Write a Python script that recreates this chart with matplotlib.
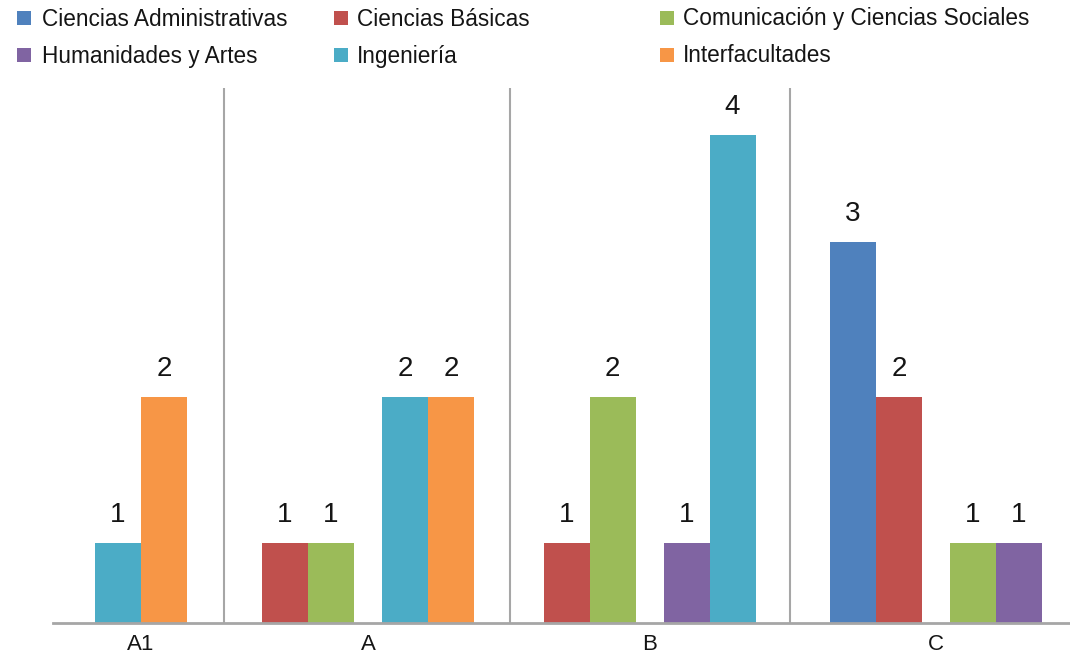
import numpy as np
import matplotlib
matplotlib.use('Agg')
import matplotlib.pyplot as plt
from matplotlib.patches import Rectangle

plt.rcParams['font.family'] = ['Liberation Sans', 'DejaVu Sans']

# data
groups = ['A1', 'A', 'B', 'C']
series = ['Ciencias Administrativas', 'Ciencias Básicas', 'Comunicación y Ciencias Sociales',
          'Humanidades y Artes', 'Ingeniería', 'Interfacultades']
admin = [0, 0, 0, 3]
basicas = [0, 1, 1, 2]
comunicacion = [0, 1, 2, 1]
humanidades = [0, 0, 1, 1]
ingenieria = [1, 2, 4, 0]
interfac = [2, 2, 0, 0]
values = [admin, basicas, comunicacion, humanidades, ingenieria, interfac]
colors = ['#4F81BD', '#C0504D', '#9BBB59', '#8064A2', '#4BACC6', '#F79646']

# the value axis of the original is not linear: calibrate it (value -> pixels above base)
knot_v = [-1, 0, 1, 2, 3, 4, 6]
knot_px = [-80, 0, 80, 226, 381, 488, 702]
def fwd(v):
    return np.interp(v, knot_v, knot_px)
def inv(p):
    return np.interp(p, knot_px, knot_v)

# layout (pixels)
W, H = 1070, 658
centers = [141, 368, 649.5, 936]
separators = [224, 510, 790]
bw = 46
gap = 28

fig = plt.figure(figsize=(W / 100, H / 100), dpi=100)
ax = fig.add_axes([53 / W, (H - 623) / H, (W - 53) / W, 535 / H])
ax.set_yscale('function', functions=(fwd, inv))

for g, c in enumerate(centers):
    idx = [i for i in range(len(series)) if values[i][g] > 0]
    n = len(idx)
    total = n * bw + (gap if n > 2 else 0)
    x0 = c - total / 2
    for k, i in enumerate(idx):
        x = x0 + k * bw + (gap if n > 2 and k >= n // 2 else 0) + bw / 2
        v = values[i][g]
        ax.bar(x, v, width=bw, color=colors[i], linewidth=0)
        ax.annotate(str(v), (x, v), xytext=(0, 11), textcoords='offset points',
                    ha='center', va='bottom', fontsize=20, color='#151515')

for s in separators:
    ax.axvline(s, color='#A6A6A6', lw=1.5)

ax.set_xlim(53, W)
ax.set_ylim(0, inv(535))
for sp in ['top', 'left', 'right']:
    ax.spines[sp].set_visible(False)
ax.spines['bottom'].set_color('#A6A6A6')
ax.spines['bottom'].set_linewidth(2)
ax.set_yticks([])
ax.set_xticks(centers)
ax.set_xticklabels(groups, fontsize=16, color='#151515')
ax.tick_params(axis='x', length=0, pad=8)

# legend, placed by hand like the original
mark_x = [17, 334, 660]
text_x = [42, 357, 683]
row_y = [18, 55]
for i, name in enumerate(series):
    col, row = i % 3, i // 3
    y = row_y[row]
    fig.add_artist(Rectangle((mark_x[col] / W, 1 - (y + 7) / H), 14 / W, 14 / H,
                             transform=fig.transFigure, color=colors[i], lw=0))
    fig.text(text_x[col] / W, 1 - (y + 1) / H, name, fontsize=16.3, color='#151515',
             ha='left', va='center')

fig.savefig('out.png', dpi=100)
